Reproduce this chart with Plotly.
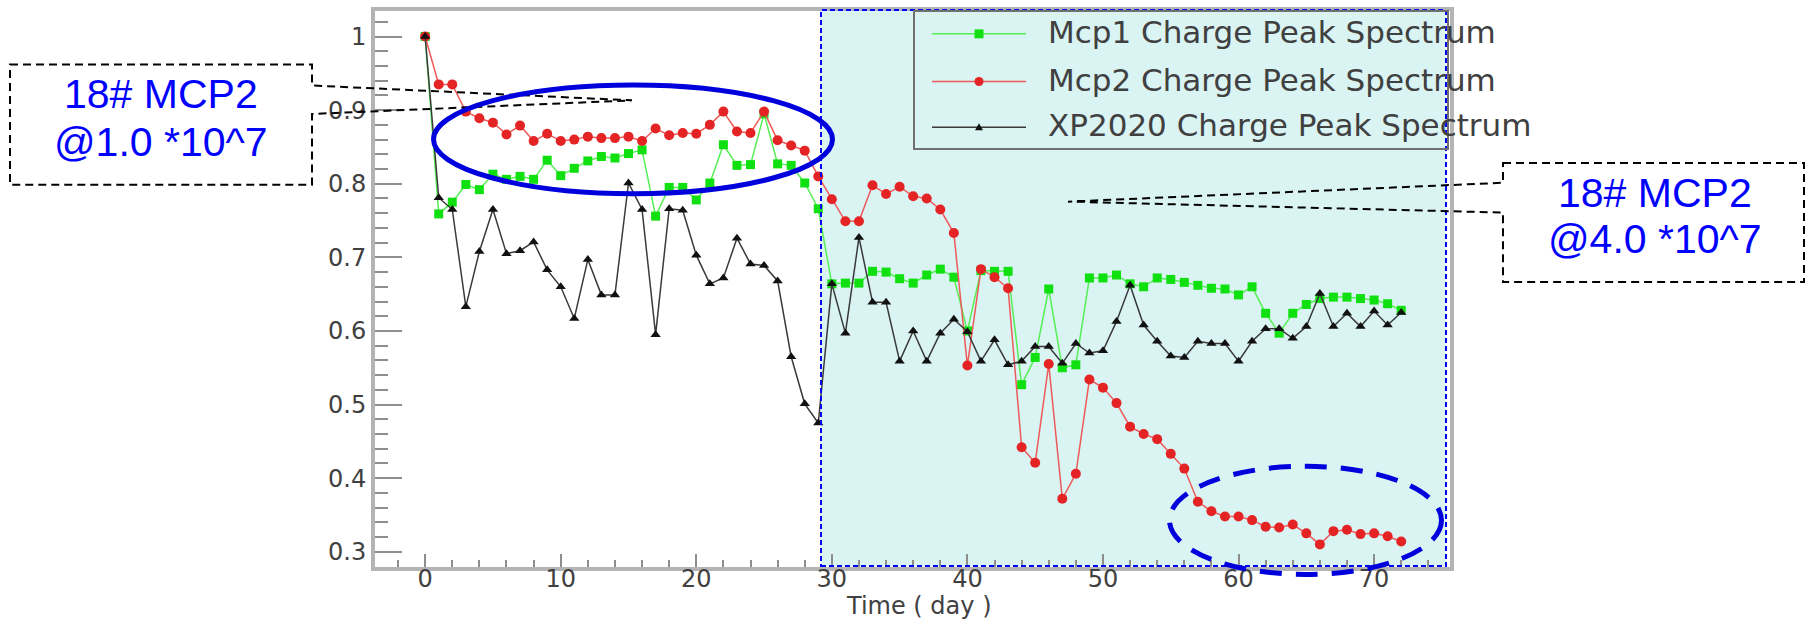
import plotly.graph_objects as go

# ---- data -------------------------------------------------------------
days = list(range(0, 73))

mcp1_peak = [
    1.000, 0.759, 0.775, 0.799, 0.792, 0.813, 0.806, 0.810, 0.806, 0.832,
    0.811, 0.821, 0.831, 0.837, 0.835, 0.841, 0.846, 0.756, 0.795, 0.795,
    0.778, 0.801, 0.853, 0.825, 0.826, 0.895, 0.827, 0.825, 0.801, 0.766,
    0.664, 0.665, 0.665, 0.681, 0.680, 0.671, 0.665, 0.676, 0.684, 0.673,
    0.600, 0.682, 0.681, 0.681, 0.527, 0.564, 0.657, 0.550, 0.554, 0.672,
    0.672, 0.676, 0.664, 0.660, 0.672, 0.670, 0.666, 0.662, 0.658, 0.657,
    0.649, 0.660, 0.624, 0.597, 0.624, 0.636, 0.644, 0.646, 0.646, 0.644,
    0.642, 0.637, 0.628,
]

mcp2_peak = [
    1.000, 0.935, 0.935, 0.898, 0.889, 0.883, 0.867, 0.879, 0.858, 0.868,
    0.858, 0.860, 0.864, 0.862, 0.862, 0.864, 0.858, 0.875, 0.866, 0.869,
    0.868, 0.880, 0.898, 0.871, 0.869, 0.898, 0.859, 0.852, 0.845, 0.810,
    0.779, 0.749, 0.749, 0.798, 0.786, 0.796, 0.783, 0.780, 0.765, 0.733,
    0.553, 0.684, 0.673, 0.658, 0.442, 0.421, 0.555, 0.372, 0.406, 0.534,
    0.523, 0.502, 0.470, 0.460, 0.453, 0.433, 0.413, 0.368, 0.355, 0.348,
    0.348, 0.343, 0.334, 0.333, 0.337, 0.325, 0.310, 0.328, 0.330, 0.324,
    0.325, 0.321, 0.314,
]

xp2020_peak = [
    1.000, 0.781, 0.765, 0.633, 0.708, 0.765, 0.705, 0.709, 0.721, 0.683,
    0.660, 0.617, 0.697, 0.649, 0.649, 0.801, 0.765, 0.595, 0.766, 0.764,
    0.703, 0.664, 0.672, 0.726, 0.691, 0.689, 0.668, 0.565, 0.501, 0.475,
    0.664, 0.597, 0.727, 0.639, 0.639, 0.559, 0.600, 0.559, 0.597, 0.616,
    0.599, 0.559, 0.588, 0.554, 0.559, 0.579, 0.579, 0.556, 0.583, 0.570,
    0.573, 0.613, 0.662, 0.608, 0.586, 0.566, 0.564, 0.586, 0.583, 0.583,
    0.559, 0.586, 0.603, 0.603, 0.590, 0.606, 0.651, 0.606, 0.624, 0.606,
    0.627, 0.608, 0.625,
]

series_names = [
    "Mcp1 Charge Peak Spectrum",
    "Mcp2 Charge Peak Spectrum",
    "XP2020 Charge Peak Spectrum",
]

x_tick_vals = [0, 10, 20, 30, 40, 50, 60, 70]
x_tick_text = ["0", "10", "20", "30", "40", "50", "60", "70"]
y_tick_vals = [0.3, 0.4, 0.5, 0.6, 0.7, 0.8, 0.9, 1.0]
y_tick_text = ["0.3", "0.4", "0.5", "0.6", "0.7", "0.8", "0.9", "1"]

x_title = "Time ( day )"
note_low_gain = ["18# MCP2", "@1.0 *10^7"]
note_high_gain = ["18# MCP2", "@4.0 *10^7"]

# ---- geometry helpers (figure pixels -> paper fractions) ---------------
W, H = 1806, 620
PL, PR, PT, PB = 375, 1450, 7, 567


def fx(x):
    return (x - PL) / (PR - PL)


def fy(y):
    return (PB - y) / (PB - PT)


def path(points, close=True):
    s = "M " + " L ".join(f"{fx(x):.5f},{fy(y):.5f}" for x, y in points)
    return s + (" Z" if close else "")


ROOT_FONT = "DejaVu Sans"
AXIS_GRAY = "#b4b4b4"
TICK_GRAY = "#8e8e8e"
TEXT_GRAY = "#404040"
NOTE_BLUE = "#0000ff"
RING_BLUE = "#0000dd"

styles = [
    dict(line_color="#55f055", marker_color="#10e010", symbol="square", size=9),
    dict(line_color="#ee5a5a", marker_color="#e42424", symbol="circle", size=10),
    dict(line_color="#3a3a3a", marker_color="#111111", symbol="triangle-up", size=9),
]

fig = go.Figure()
for name, values, st in zip(series_names, [mcp1_peak, mcp2_peak, xp2020_peak], styles):
    fig.add_trace(go.Scatter(
        x=days, y=values, name=name, mode="lines+markers",
        line=dict(color=st["line_color"], width=1.5),
        marker=dict(color=st["marker_color"], symbol=st["symbol"], size=st["size"]),
        showlegend=False,
    ))

shapes = []
# shaded high-gain period
shapes.append(dict(type="rect", xref="paper", yref="paper",
                   x0=fx(821), x1=fx(1446), y0=fy(566), y1=fy(6),
                   fillcolor="#daf3f3", line=dict(width=0), layer="below"))
shapes.append(dict(type="rect", xref="paper", yref="paper",
                   x0=fx(821), x1=fx(1446), y0=fy(566), y1=fy(6),
                   line=dict(color=NOTE_BLUE, width=2, dash="5px,3px"), layer="above"))

# legend frame and samples
shapes.append(dict(type="rect", xref="paper", yref="paper",
                   x0=fx(914), x1=fx(1448), y0=fy(146), y1=fy(7),
                   line=dict(color="#707070", width=2), layer="above"))
legend_rows = [30, 78, 124]
for row_y, st in zip(legend_rows, styles):
    shapes.append(dict(type="line", xref="paper", yref="paper",
                       x0=fx(932), x1=fx(1026), y0=fy(row_y), y1=fy(row_y),
                       line=dict(color=st["line_color"], width=1.5)))
cx = 979
shapes.append(dict(type="rect", xref="paper", yref="paper",
                   x0=fx(cx - 4.5), x1=fx(cx + 4.5), y0=fy(30 + 4.5), y1=fy(30 - 4.5),
                   fillcolor=styles[0]["marker_color"], line=dict(width=0)))
shapes.append(dict(type="circle", xref="paper", yref="paper",
                   x0=fx(cx - 4.5), x1=fx(cx + 4.5), y0=fy(78 + 4.5), y1=fy(78 - 4.5),
                   fillcolor=styles[1]["marker_color"], line=dict(width=0)))
shapes.append(dict(type="path", xref="paper", yref="paper",
                   path=path([(cx - 4, 127), (cx + 4, 127), (cx, 120)]),
                   fillcolor=styles[2]["marker_color"], line=dict(width=0)))

# callout boxes with pointers
shapes.append(dict(type="path", xref="paper", yref="paper",
                   path=path([(10, 61), (312, 61), (312, 82), (632, 97),
                              (312, 110.7), (312, 182), (10, 182)]),
                   line=dict(color="black", width=2, dash="8px,5px")))
shapes.append(dict(type="path", xref="paper", yref="paper",
                   path=path([(1503, 160), (1804, 160), (1804, 280), (1503, 280),
                              (1503, 210), (1068, 199), (1503, 180)]),
                   line=dict(color="black", width=2, dash="8px,5px")))

# highlight rings
shapes.append(dict(type="circle", xref="paper", yref="paper",
                   x0=fx(433.5), x1=fx(832.5), y0=fy(191), y1=fy(81.5),
                   line=dict(color=RING_BLUE, width=5)))
shapes.append(dict(type="circle", xref="paper", yref="paper",
                   x0=fx(1169.5), x1=fx(1441.5), y0=fy(574.5), y1=fy(465.5),
                   line=dict(color=RING_BLUE, width=5, dash="22px,14px")))

annotations = []
for row_y, name in zip(legend_rows, series_names):
    annotations.append(dict(xref="paper", yref="paper", x=fx(1046), y=fy(row_y - 2),
                            xanchor="left", yanchor="middle", showarrow=False,
                            text=name, font=dict(family=ROOT_FONT, size=31, color=TEXT_GRAY)))

annotations.append(dict(xref="paper", yref="paper", x=fx(919), y=fy(606),
                        xanchor="center", yanchor="middle", showarrow=False,
                        text=x_title, font=dict(family=ROOT_FONT, size=24, color=TEXT_GRAY)))

for lines, cxp, ys in [(note_low_gain, 161, (90.5, 138.5)), (note_high_gain, 1655, (190, 237))]:
    for txt, yy in zip(lines, ys):
        annotations.append(dict(xref="paper", yref="paper", x=fx(cxp), y=fy(yy),
                                xanchor="center", yanchor="middle", showarrow=False,
                                text=txt, font=dict(family="Liberation Sans", size=41, color=NOTE_BLUE)))

fig.update_layout(
    width=W, height=H,
    margin=dict(l=PL, r=W - PR, t=PT, b=H - PB, pad=0),
    paper_bgcolor="white", plot_bgcolor="white",
    showlegend=False,
    shapes=shapes, annotations=annotations,
    xaxis=dict(
        range=[-3.7, 75.6], tickvals=x_tick_vals, ticktext=x_tick_text,
        ticks="inside", ticklen=13, tickwidth=2, tickcolor=TICK_GRAY,
        minor=dict(dtick=2, tick0=0, ticks="inside", ticklen=7, tickwidth=2, tickcolor=TICK_GRAY),
        showline=True, linecolor=AXIS_GRAY, linewidth=4, mirror=True,
        showgrid=False, zeroline=False, ticklabelstandoff=-13,
        tickfont=dict(family=ROOT_FONT, size=24, color=TEXT_GRAY),
    ),
    yaxis=dict(
        range=[0.2793, 1.0347], tickvals=y_tick_vals, ticktext=y_tick_text,
        ticks="inside", ticklen=27, tickwidth=2, tickcolor=TICK_GRAY,
        minor=dict(dtick=0.02, tick0=0, ticks="inside", ticklen=13, tickwidth=2, tickcolor=TICK_GRAY),
        showline=True, linecolor=AXIS_GRAY, linewidth=4, mirror=True,
        showgrid=False, zeroline=False,
        tickfont=dict(family=ROOT_FONT, size=24, color=TEXT_GRAY),
    ),
)

fig.write_html("out.html")
